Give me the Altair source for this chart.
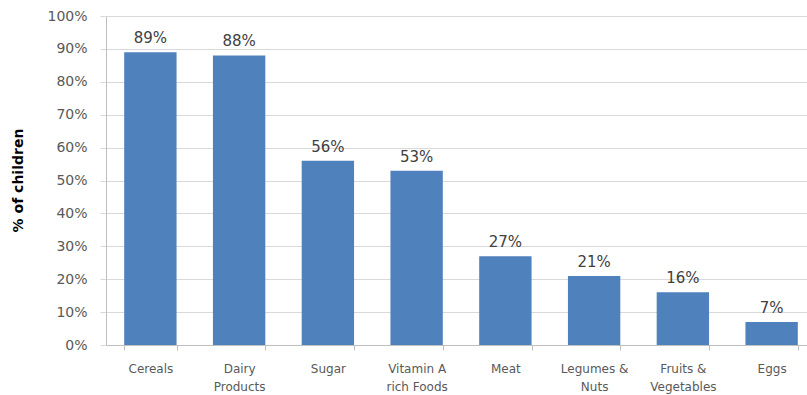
import altair as alt
import pandas as pd

# Food groups consumed and share of children eating each
categories = ["Cereals", "Dairy|Products", "Sugar", "Vitamin A|rich Foods",
              "Meat", "Legumes &|Nuts", "Fruits &|Vegetables", "Eggs"]
percent = [89, 88, 56, 53, 27, 21, 16, 7]
y_ticks = [0, 0.1, 0.2, 0.3, 0.4, 0.5, 0.6, 0.7, 0.8, 0.9, 1.0]

df = pd.DataFrame({"food": categories, "share": [p / 100 for p in percent]})

FONT = "DejaVu Sans"

x_enc = alt.X(
    "food:N",
    sort=categories,
    scale=alt.Scale(range=[0, 710], paddingInner=0.41, paddingOuter=0.205),
    axis=alt.Axis(
        title=None,
        labelAngle=0,
        labelExpr="split(datum.label, '|')",
        labelFont=FONT,
        labelFontSize=12,
        labelColor="#595959",
        labelLineHeight=18,
        labelBaseline="top",
        labelPadding=13,
        tickBand="extent",
        tickSize=5,
        tickColor="#bfbfbf",
        domainColor="#bfbfbf",
        grid=False,
    ),
)

y_enc = alt.Y(
    "share:Q",
    scale=alt.Scale(domain=[0, 1], nice=False),
    axis=alt.Axis(
        title="% of children",
        titleFont=FONT,
        titleFontSize=14,
        titleFontWeight="bold",
        titleColor="#000000",
        titleX=-88,
        titleY=164,
        titleAngle=-90,
        titleAlign="center",
        titleBaseline="middle",
        values=y_ticks,
        labelOverlap=False,
        format=".0%",
        labelFont=FONT,
        labelFontSize=14,
        labelColor="#595959",
        labelPadding=13,
        tickSize=6,
        tickColor="#d9d9d9",
        domainColor="#bfbfbf",
        gridColor="#d9d9d9",
    ),
)

base = alt.Chart(df).encode(x=x_enc, y=y_enc)

bars = base.mark_bar(color="#4F81BD")

labels = base.mark_text(
    dy=-9, baseline="alphabetic", font=FONT, fontSize=15, color="#404040"
).encode(text=alt.Text("share:Q", format=".0%"))

chart = (
    alt.layer(bars, labels)
    .properties(
        width=701,
        height=329,
        autosize=alt.AutoSizeParams(type="none"),
        padding={"left": 106, "top": 16, "right": 0, "bottom": 50},
        background="white",
    )
    .configure_view(stroke=None)
)

chart.save("out.html", embed_options={"renderer": "svg", "actions": False})
